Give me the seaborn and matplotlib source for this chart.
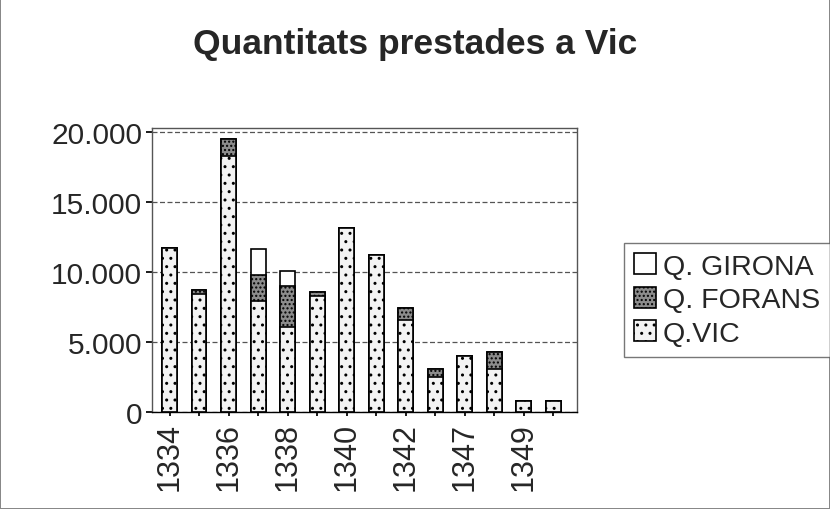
import numpy as np
import pandas as pd
import matplotlib
matplotlib.use("Agg")
import matplotlib.pyplot as plt
import seaborn as sns
from matplotlib.ticker import FuncFormatter

# Data
years = ["1334", "1335", "1336", "1337", "1338", "1339", "1340",
         "1341", "1342", "1346", "1347", "1348", "1349", "1350"]
q_vic = [11700, 8400, 18300, 7900, 6100, 8300, 13100,
         11200, 6600, 2500, 4000, 3100, 800, 800]
q_forans = [0, 300, 1200, 1900, 2900, 300, 0,
            0, 800, 600, 0, 1200, 0, 0]
q_girona = [0, 0, 0, 1800, 1100, 0, 0,
            0, 0, 0, 0, 0, 0, 0]

df = pd.DataFrame({"year": years, "vic": q_vic, "forans": q_forans, "girona": q_girona})
df["vf"] = df["vic"] + df["forans"]
df["total"] = df["vf"] + df["girona"]

sns.set_theme(style="white")
plt.rcParams["font.family"] = ["Liberation Sans", "DejaVu Sans"]

fig = plt.figure(figsize=(8.3, 5.1), dpi=100)
ax = fig.add_axes([0.183, 0.19, 0.512, 0.558])

# stacked bars: draw cumulative totals back to front
sns.barplot(data=df, x="year", y="total", color="white", edgecolor="black",
            linewidth=1.2, width=0.5, ax=ax, label="Q. GIRONA")
sns.barplot(data=df, x="year", y="vf", color="#8c8c8c", edgecolor="black",
            linewidth=1.2, width=0.5, hatch="....", ax=ax, label="Q. FORANS")
sns.barplot(data=df, x="year", y="vic", color="#f3f3f3", edgecolor="black",
            linewidth=1.2, width=0.5, hatch="..", ax=ax, label="Q.VIC")
for p in ax.patches:
    p.set_edgecolor("black")

ax.set_ylim(0, 20300)
ax.set_xlim(-0.6, 13.8)
ax.set_yticks([0, 5000, 10000, 15000, 20000])
ax.yaxis.set_major_formatter(FuncFormatter(lambda v, _: f"{int(v):,}".replace(",", ".")))
ax.grid(axis="y", color="#555555", linestyle=(0, (4, 2)), linewidth=0.9)
ax.set_axisbelow(True)
for s in ax.spines.values():
    s.set_color("#555555")
    s.set_linewidth(1.0)
    s.set_linestyle((0, (3, 1)))
ax.spines["bottom"].set_linestyle("-")
ax.spines["bottom"].set_color("black")

labels = [y if i % 2 == 0 else "" for i, y in enumerate(years)]
ax.set_xticks(range(len(years)))
ax.set_xticklabels(labels, rotation=90, fontsize=22)
ax.tick_params(axis="y", labelsize=21.5, length=4, left=True, color="black", pad=3)
ax.tick_params(axis="x", length=3, bottom=True, color="black", pad=4)
ax.set_xlabel("")
ax.set_ylabel("")

handles, lbls = ax.get_legend_handles_labels()
leg = fig.legend(handles, lbls, loc="center left", bbox_to_anchor=(0.735, 0.41),
                 fontsize=20.5, frameon=True, fancybox=False, handlelength=0.75,
                 handleheight=0.75, handletextpad=0.25, labelspacing=0.25,
                 borderpad=0.35, edgecolor="#555555")
leg.get_frame().set_linewidth(1.0)
if ax.get_legend():
    ax.get_legend().remove()

fig.suptitle("Quantitats prestades a Vic", fontsize=25.5, fontweight="bold", y=0.945)

fig.patch.set_edgecolor("#888888")
fig.patch.set_linewidth(1.2)
fig.savefig("out.png", dpi=100, edgecolor=fig.get_edgecolor())
